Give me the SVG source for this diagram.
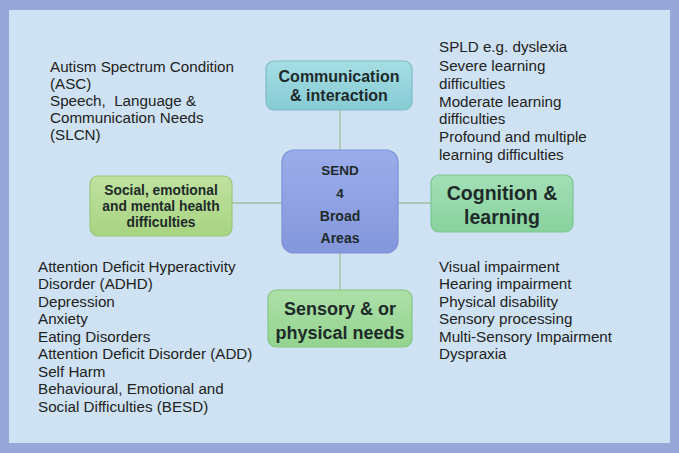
<svg xmlns="http://www.w3.org/2000/svg" width="679" height="453" viewBox="0 0 679 453">
<defs>
<linearGradient id="gTeal" x1="0" y1="0" x2="0" y2="1"><stop offset="0" stop-color="#a6dde4"/><stop offset="1" stop-color="#86cbd4"/></linearGradient>
<linearGradient id="gBlue" x1="0" y1="0" x2="0" y2="1"><stop offset="0" stop-color="#9badea"/><stop offset="1" stop-color="#8497dc"/></linearGradient>
<linearGradient id="gLime" x1="0" y1="0" x2="0" y2="1"><stop offset="0" stop-color="#c0e2a0"/><stop offset="1" stop-color="#a8d482"/></linearGradient>
<linearGradient id="gMint" x1="0" y1="0" x2="0" y2="1"><stop offset="0" stop-color="#a3dfb5"/><stop offset="1" stop-color="#88d29e"/></linearGradient>
<linearGradient id="gGreen" x1="0" y1="0" x2="0" y2="1"><stop offset="0" stop-color="#ade0a8"/><stop offset="1" stop-color="#93d48f"/></linearGradient>
</defs>
<style>
.box{stroke-width:1.2}
.t{font-family:"Liberation Sans",Arial,sans-serif;fill:#222;font-size:15.2px}
.b{font-family:"Liberation Sans",Arial,sans-serif;fill:#1e2a2a;font-weight:bold;text-anchor:middle}
.con{stroke:#9fbf9f;stroke-width:1.3;fill:none}
</style>
<rect x="0" y="0" width="679" height="453" fill="#97a8d8"/>
<rect x="9" y="10" width="661" height="433" fill="#cfe2f3"/>
<g id="connectors">
<line class="con" x1="340" y1="110" x2="340" y2="150"/>
<line class="con" x1="340" y1="253" x2="340" y2="290"/>
<line class="con" x1="232" y1="203" x2="282" y2="203"/>
<line class="con" x1="398" y1="203" x2="431" y2="203"/>
</g>
<g id="node-communication">
<rect class="box" x="266" y="61" width="146" height="49" rx="8" fill="url(#gTeal)" stroke="#7fbcc6"/>
<text class="b" x="339" y="82" font-size="16">Communication</text>
<text class="b" x="339" y="101" font-size="16">&amp; interaction</text>
</g>
<g id="node-send">
<rect class="box" x="282" y="150" width="116" height="103" rx="12" fill="url(#gBlue)" stroke="#7a8fd4"/>
<text class="b" x="340" y="175" font-size="13.5">SEND</text>
<text class="b" x="340" y="198" font-size="13.5">4</text>
<text class="b" x="340" y="221" font-size="14">Broad</text>
<text class="b" x="340" y="243" font-size="14">Areas</text>
</g>
<g id="node-social">
<rect class="box" x="90" y="176" width="142" height="60" rx="8" fill="url(#gLime)" stroke="#98c878"/>
<text class="b" x="161" y="195" font-size="13.8">Social, emotional</text>
<text class="b" x="161" y="211" font-size="13.8">and mental health</text>
<text class="b" x="161" y="227" font-size="13.8">difficulties</text>
</g>
<g id="node-cognition">
<rect class="box" x="431" y="175" width="142" height="57" rx="8" fill="url(#gMint)" stroke="#7cc594"/>
<text class="b" x="502" y="200" font-size="19.5">Cognition &amp;</text>
<text class="b" x="502" y="224" font-size="19.5">learning</text>
</g>
<g id="node-sensory">
<rect class="box" x="268" y="290" width="144" height="57" rx="8" fill="url(#gGreen)" stroke="#84c680"/>
<text class="b" x="340" y="315" font-size="18">Sensory &amp; or</text>
<text class="b" x="340" y="339" font-size="18">physical needs</text>
</g>
<g id="text-communication">
<text class="t" x="50" y="72">Autism Spectrum Condition</text>
<text class="t" x="50" y="89">(ASC)</text>
<text class="t" x="50" y="106" xml:space="preserve">Speech,  Language &amp;</text>
<text class="t" x="50" y="123">Communication Needs</text>
<text class="t" x="50" y="140">(SLCN)</text>
</g>
<g id="text-cognition">
<text class="t" x="439" y="52">SPLD e.g. dyslexia</text>
<text class="t" x="439" y="71">Severe learning</text>
<text class="t" x="439" y="89">difficulties</text>
<text class="t" x="439" y="107">Moderate learning</text>
<text class="t" x="439" y="124">difficulties</text>
<text class="t" x="439" y="142">Profound and multiple</text>
<text class="t" x="439" y="160">learning difficulties</text>
</g>
<g id="text-social">
<text class="t" x="38" y="272">Attention Deficit Hyperactivity</text>
<text class="t" x="38" y="289">Disorder (ADHD)</text>
<text class="t" x="38" y="307">Depression</text>
<text class="t" x="38" y="324">Anxiety</text>
<text class="t" x="38" y="342">Eating Disorders</text>
<text class="t" x="38" y="359">Attention Deficit Disorder (ADD)</text>
<text class="t" x="38" y="377">Self Harm</text>
<text class="t" x="38" y="394">Behavioural, Emotional and</text>
<text class="t" x="38" y="412">Social Difficulties (BESD)</text>
</g>
<g id="text-sensory">
<text class="t" x="439" y="272">Visual impairment</text>
<text class="t" x="439" y="289">Hearing impairment</text>
<text class="t" x="439" y="307">Physical disability</text>
<text class="t" x="439" y="324">Sensory processing</text>
<text class="t" x="439" y="342">Multi-Sensory Impairment</text>
<text class="t" x="439" y="359">Dyspraxia</text>
</g>
</svg>
